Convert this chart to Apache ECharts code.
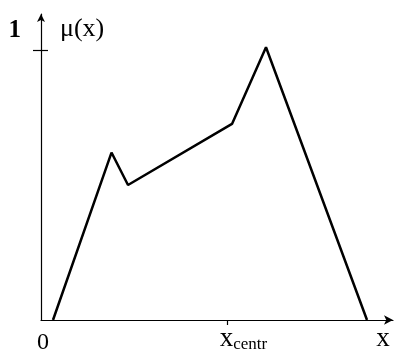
<!DOCTYPE html>
<html>
<head>
<meta charset="utf-8">
<script src="https://cdn.jsdelivr.net/npm/echarts@6/dist/echarts.min.js"></script>
<style>
  html, body { margin: 0; padding: 0; background: #ffffff; }
  #chart { width: 398px; height: 354px; }
</style>
</head>
<body>
<div id="chart"></div>
<script>
// Membership function mu(x): breakpoints of the polyline
const xPoints = [1.2, 7.05, 8.7, 19.1, 22.5, 32.6];
const muPoints = [0, 0.62, 0.50, 0.726, 1.01, 0];

// Axis marks
const xCentr = 18.6;          // position of the x_centr tick
const xNamePos = 34.2;        // where the "x" axis label sits
const xMax = 35.2;
const muMax = 1.133;
const muTicks = [1];
const xLabelValues = [0, xCentr, xNamePos];

const serif = '"Liberation Serif", "DejaVu Serif", serif';

const chart = echarts.init(document.getElementById('chart'), null, { renderer: 'canvas' });

const lineData = xPoints.map((x, i) => [x, muPoints[i]]);

const axisLineStyle = { color: '#000', width: 1.2 };

chart.setOption({
  animation: false,
  backgroundColor: '#ffffff',
  grid: { left: 41, right: 5, top: 14, bottom: 34, containLabel: false, outerBoundsMode: 'none' },
  xAxis: {
    type: 'value',
    min: 0,
    max: xMax,
    splitLine: { show: false },
    axisLine: {
      show: true,
      onZero: false,
      lineStyle: axisLineStyle,
      symbol: ['none', 'arrow'],
      symbolSize: [7, 9]
    },
    axisTick: {
      show: true,
      customValues: [xCentr],
      length: 5,
      lineStyle: { color: '#000', width: 1.2 }
    },
    axisLabel: {
      show: true,
      customValues: xLabelValues,
      margin: 5,
      color: '#000',
      fontFamily: serif,
      formatter: function (v) {
        if (v === 0) return '{zero|0}';
        if (v === xCentr) return '{xc|x}{sub|centr}';
        return '{x|x}';
      },
      rich: {
        zero: { fontFamily: serif, fontSize: 24, color: '#000', padding: [6, 0, 0, 4] },
        x: { fontFamily: serif, fontSize: 27, color: '#000' },
        xc: { fontFamily: serif, fontSize: 27, color: '#000', padding: [0, 0, 0, 33] },
        sub: { fontFamily: serif, fontSize: 17, color: '#000', padding: [11, 0, 0, 0] }
      }
    }
  },
  yAxis: [
    {
      type: 'value',
      min: 0,
      max: muMax,
      splitLine: { show: false },
      axisLine: {
        show: true,
        onZero: false,
        lineStyle: axisLineStyle,
        symbol: ['none', 'arrow'],
        symbolSize: [6, 8]
      },
      axisTick: {
        show: true,
        customValues: muTicks,
        length: 8,
        lineStyle: { color: '#000', width: 1.2 }
      },
      axisLabel: {
        show: true,
        customValues: muTicks,
        margin: 20,
        color: '#000',
        fontFamily: serif,
        fontSize: 25,
        fontWeight: 'bold',
        verticalAlign: 'bottom',
        padding: [0, 0, 7, 0]
      },
      name: '\u03bc(x)',
      nameLocation: 'end',
      nameGap: -15,
      nameTextStyle: {
        fontFamily: serif,
        fontSize: 26,
        color: '#000',
        align: 'left',
        verticalAlign: 'middle',
        padding: [0, 0, 0, 19]
      }
    },
    {
      // inner half of the cross tick at mu = 1
      type: 'value',
      min: 0,
      max: muMax,
      position: 'left',
      splitLine: { show: false },
      axisLine: { show: false },
      axisTick: {
        show: true,
        inside: true,
        customValues: muTicks,
        length: 7,
        lineStyle: { color: '#000', width: 1.2 }
      },
      axisLabel: { show: false }
    }
  ],
  series: [
    {
      type: 'line',
      data: lineData,
      showSymbol: false,
      symbol: 'none',
      lineStyle: { color: '#000', width: 2.5 },
      z: 3
    }
  ]
});
</script>
</body>
</html>
